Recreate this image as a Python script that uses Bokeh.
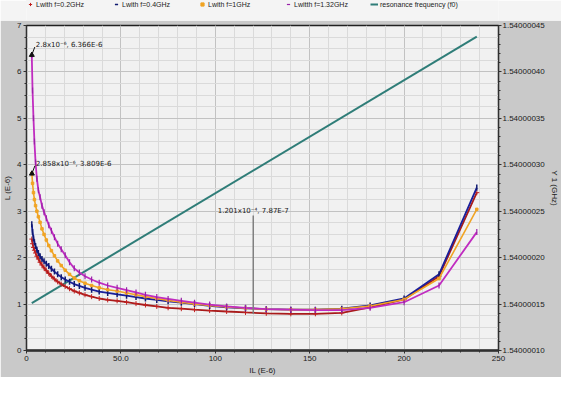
import math
from bokeh.plotting import figure
from bokeh.layouts import column
from bokeh.models import (Range1d, LinearAxis, SingleIntervalTicker, FixedTicker,
                          PrintfTickFormatter, Legend, LegendItem, Label)
from bokeh.embed import file_html
from bokeh.resources import INLINE

# ---- data ----
il = [2.8, 3.2, 3.7, 4.2, 4.8, 5.5, 6.3, 7.2, 8.2, 9.3, 10.5, 11.8, 13.2, 14.8, 16.5,
      18.4, 20.5, 22.8, 25.3, 28, 31, 34.5, 38.5, 43, 48, 53, 58, 63, 69, 75, 82, 89,
      97, 106, 116, 127, 140, 153, 167, 182, 200, 218.5, 238.5]
il_1g = [2.858] + il[1:]

L_02 = [2.40, 2.30, 2.22, 2.16, 2.10, 2.03, 1.97, 1.90, 1.84, 1.78, 1.72, 1.66, 1.60, 1.54,
        1.48, 1.43, 1.38, 1.33, 1.28, 1.24, 1.20, 1.16, 1.12, 1.09, 1.07, 1.04, 1.01, 0.98,
        0.95, 0.92, 0.90, 0.88, 0.86, 0.84, 0.82, 0.80, 0.79, 0.79, 0.81, 0.93, 1.10, 1.60, 3.40]
L_04 = [2.72, 2.55, 2.42, 2.33, 2.25, 2.17, 2.10, 2.03, 1.97, 1.92, 1.87, 1.82, 1.76, 1.70,
        1.64, 1.58, 1.53, 1.48, 1.43, 1.39, 1.35, 1.31, 1.27, 1.24, 1.21, 1.18, 1.15, 1.12,
        1.09, 1.06, 1.03, 1.00, 0.96, 0.93, 0.91, 0.89, 0.88, 0.88, 0.90, 0.97, 1.12, 1.64, 3.51]
L_1 = [3.809, 3.60, 3.40, 3.25, 3.12, 3.00, 2.88, 2.76, 2.62, 2.50, 2.38, 2.26, 2.15, 2.04,
       1.93, 1.83, 1.73, 1.64, 1.56, 1.50, 1.45, 1.40, 1.35, 1.31, 1.28, 1.24, 1.20, 1.16,
       1.12, 1.08, 1.04, 1.00, 0.97, 0.94, 0.91, 0.89, 0.88, 0.88, 0.90, 0.96, 1.10, 1.55, 3.04]
L_132 = [6.366, 5.60, 5.00, 4.50, 4.05, 3.70, 3.45, 3.30, 3.12, 2.98, 2.85, 2.70, 2.58, 2.44,
         2.30, 2.18, 2.05, 1.90, 1.77, 1.68, 1.60, 1.53, 1.46, 1.40, 1.35, 1.30, 1.25, 1.20,
         1.15, 1.11, 1.07, 1.03, 0.99, 0.95, 0.92, 0.89, 0.88, 0.87, 0.87, 0.92, 1.04, 1.40, 2.55]

f0_il = [2.8, 238.5]
f0_ghz = [1.540000151, 1.540000438]

ann_x = [2.8, 2.858, 120.1]
ann_y = [6.366, 3.809, 0.787]
ann_text = ["2.8x10\u207b\u2076, 6.366E-6", "2.858x10\u207b\u2076, 3.809E-6",
            "1.201x10\u207b\u2074, 7.87E-7"]

legend_labels = ["Lwith f=0.2GHz", "Lwith f=0.4GHz", "Lwith f=1GHz",
                 "Lwitth f=1.32GHz", "resonance frequency (f0)"]

x_labels = {0: "0", 50: "50.0", 100: "100", 150: "150", 200: "200", 250: "250"}
f0_lo, f0_hi = 1.5400001, 1.54000045

# ---- styles ----
W, H_LEG, H = 561, 20, 357
BL, BR, BT, BB = 22, 53, 5, 25
FONT = "Liberation Sans"
c02, c04, c1, c132, cf0 = "#a81a1a", "#1a1f9a", "#f0a424", "#c02cc0", "#2f7d78"
m02 = dict(marker="cross", size=5, color="#c02020", line_width=1)
m04 = dict(marker="dash", angle=math.pi / 2, size=6, color="#101a70", line_width=1.5)
m1 = dict(marker="square", size=2.5, color=c1)
m132 = dict(marker="dash", angle=math.pi / 2, size=6, color="#9a20a8", line_width=1.2)

# ---- main figure ----
p = figure(width=W, height=H, output_backend="svg", toolbar_location=None,
           x_range=Range1d(0, 250), y_range=Range1d(0, 7),
           min_border_left=BL, min_border_right=BR, min_border_top=BT, min_border_bottom=BB,
           background_fill_color="#f1f1f1", border_fill_color="#c9c9c9",
           outline_line_color="#202020", outline_line_width=1.5)
p.extra_y_ranges = {"f0": Range1d(f0_lo, f0_hi)}

p.xaxis.ticker = SingleIntervalTicker(interval=50, num_minor_ticks=5)
p.yaxis.ticker = SingleIntervalTicker(interval=1, num_minor_ticks=4)
p.xaxis.major_label_overrides = x_labels
p.xaxis.axis_label = "IL (E-6)"
p.yaxis.axis_label = "L (E-6)"

n_minor = 5
f0_step = 5e-8
f0_ticks = [round(f0_lo + i * f0_step, 10) for i in range(8)]
f0_minor = [round(f0_lo + i * f0_step / n_minor, 11) for i in range(7 * n_minor + 1)]
rax = LinearAxis(y_range_name="f0",
                 ticker=FixedTicker(ticks=f0_ticks, minor_ticks=f0_minor),
                 formatter=PrintfTickFormatter(format="%.8f"),
                 axis_label="Y 1 (GHz)")
p.add_layout(rax, "right")

for ax in [p.xaxis[0], p.yaxis[0], rax]:
    ax.major_label_text_font = FONT
    ax.major_label_text_font_size = "8px"
    ax.major_label_text_color = "#202020"
    ax.axis_label_text_font = FONT
    ax.axis_label_text_font_size = "8px"
    ax.axis_label_text_font_style = "normal"
    ax.axis_label_text_color = "#202020"
    ax.axis_label_standoff = 2
    ax.major_label_standoff = 2
    ax.major_tick_out = 3
    ax.major_tick_in = 0
    ax.minor_tick_out = 2
    ax.minor_tick_in = 0
    ax.axis_line_color = "#303030"
    ax.major_tick_line_color = "#303030"
    ax.minor_tick_line_color = "#303030"
rax.major_label_standoff = 1
p.xaxis.axis_line_width = 2.5

p.xgrid.grid_line_color = "#c2c2c2"
p.ygrid.grid_line_color = "#c2c2c2"
p.xgrid.minor_grid_line_color = "#dadada"
p.ygrid.minor_grid_line_color = "#dadada"

# ---- series ----
p.line(f0_il, f0_ghz, y_range_name="f0", color=cf0, line_width=2)
p.line(il, L_02, color=c02, line_width=1.8)
p.scatter(il, L_02, **m02)
p.line(il, L_04, color=c04, line_width=1.8)
p.scatter(il, L_04, **m04)
p.line(il_1g, L_1, color=c1, line_width=1.6)
p.scatter(il_1g, L_1, **m1)
p.line(il, L_132, color=c132, line_width=1.8)
p.scatter(il, L_132, **m132)

# ---- annotations ----
p.scatter(ann_x[:2], ann_y[:2], marker="triangle", size=5, color="#101010")
leader_len = 2.12
p.segment(x0=ann_x[2:], y0=ann_y[2:], x1=ann_x[2:], y1=[y + leader_len for y in ann_y[2:]],
          color="#808080", line_width=1.5)
p.segment(x0=ann_x[:2], y0=ann_y[:2], x1=[x + 1.6 for x in ann_x[:2]],
          y1=[y + 0.17 for y in ann_y[:2]], color="#101010", line_width=1)
for i in range(2):
    p.add_layout(Label(x=ann_x[i], y=ann_y[i], text=ann_text[i], x_offset=4, y_offset=6,
                       text_font="DejaVu Sans", text_font_size="7px",
                       text_color="#202020", text_baseline="bottom"))
p.add_layout(Label(x=ann_x[2], y=ann_y[2] + leader_len, text=ann_text[2], x_offset=0, y_offset=1,
                   text_font="DejaVu Sans", text_font_size="7px", text_align="center",
                   text_color="#202020", text_baseline="bottom"))

# ---- legend strip (own small figure on top; helper points lie outside its view) ----
lf = figure(width=W, height=H_LEG, output_backend="svg", toolbar_location=None,
            x_axis_type=None, y_axis_type=None, min_border=0,
            x_range=Range1d(0, 1), y_range=Range1d(0, 1),
            background_fill_color="#f4f4f4", border_fill_color="#f4f4f4",
            outline_line_color=None)
lf.grid.visible = False
hx, hy = [-5, -4], [-5, -4]
g02 = lf.scatter(hx, hy, **m02)
g04 = lf.scatter(hx, hy, **m04)
g1 = lf.scatter(hx, hy, **m1)
g132 = lf.scatter(hx, hy, **m132)
gf0 = lf.line(hx, hy, color=cf0, line_width=2)
items = [LegendItem(label=lab, renderers=[r])
         for lab, r in zip(legend_labels, [g02, g04, g1, g132, gf0])]
legend = Legend(items=items, orientation="horizontal", location="top_left",
                label_text_font=FONT, label_text_font_size="7px", label_text_color="#222222",
                glyph_width=8, glyph_height=8, label_height=8, label_width=70,
                label_standoff=2, spacing=6, padding=4, margin=0,
                background_fill_color="#f4f4f4", background_fill_alpha=1,
                border_line_color=None)
lf.add_layout(legend)

layout = column(lf, p, spacing=0)
open("out.html", "w").write(file_html(layout, INLINE))
